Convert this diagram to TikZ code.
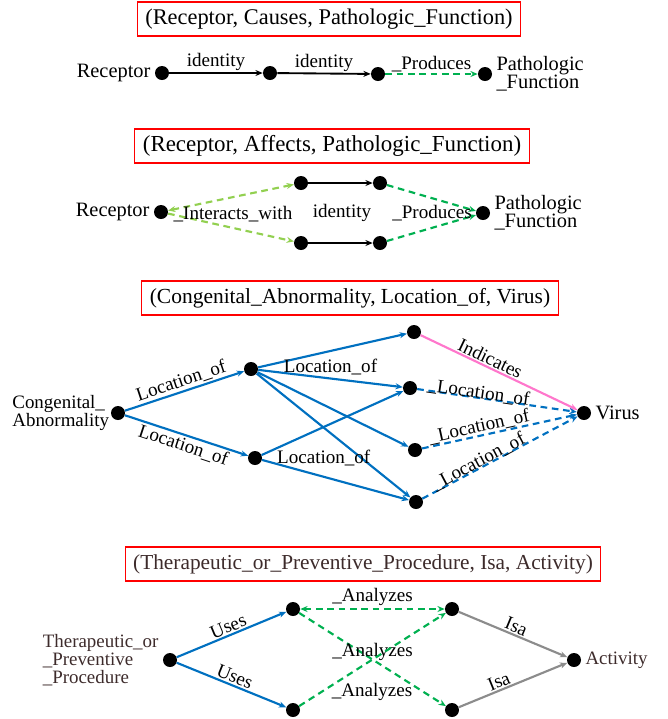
\documentclass[tikz,border=0pt]{standalone}
\usepackage{fontspec}
\setmainfont{Liberation Serif}
\usetikzlibrary{arrows.meta,calc}
\definecolor{boxred}{HTML}{FF0000}
\definecolor{lgreen}{HTML}{92D050}
\definecolor{dgreen}{HTML}{00B050}
\definecolor{eblue}{HTML}{0070C0}
\definecolor{epink}{HTML}{FF77CC}
\definecolor{egray}{HTML}{8C8C8C}
\definecolor{brownish}{HTML}{3D2B2B}
\begin{document}
\begin{tikzpicture}[x=0.75pt,y=-0.75pt,
  >={Stealth[length=5.5pt,width=4.5pt]},
  dot/.style={circle,fill=black,minimum size=10.5pt,inner sep=0pt},
  ttl/.style={draw=boxred,line width=0.8pt,font=\fontsize{16.8}{18}\selectfont,inner xsep=6pt,minimum height=25.5pt},
  nlab/.style={font=\fontsize{15.3}{13.5}\selectfont,align=left,inner sep=0pt},
  slab/.style={font=\fontsize{14.2}{13.5}\selectfont,align=left,inner sep=0pt},
  elab/.style={font=\fontsize{14.3}{14}\selectfont,inner sep=1pt},
  blk/.style={->,line width=1.4pt},
  dsh/.style={dash pattern=on 5pt off 3.5pt},
  lgr/.style={dsh,draw=lgreen,line width=1.6pt},
  dgr/.style={->,dsh,draw=dgreen,line width=1.6pt},
  blu/.style={->,draw=eblue,line width=1.6pt},
  bld/.style={->,dsh,draw=eblue,line width=1.6pt},
  pnk/.style={->,draw=epink,line width=1.6pt},
  gry/.style={->,draw=egray,line width=1.6pt}
]
\useasboundingbox (0,0) rectangle (668,719);

% ---------- Panel 1 ----------
\node[ttl] (t1) at (329,19) {(Receptor, Causes, Pathologic\_Function)};
\node[dot] (a1) at (162,73) {};
\node[dot] (a2) at (270,73) {};
\node[dot] (a3) at (378,74) {};
\node[dot] (a4) at (485,74) {};
\node[nlab,anchor=east] (a1l) at ([xshift=-3pt]a1.west) {Receptor};
\node[nlab,anchor=west] (a4l) at ([xshift=3pt]a4.east) {Pathologic\\\_Function};
\draw[blk] (a1) -- node[elab,above] (e11) {identity} (a2);
\draw[blk] (a2) -- node[elab,above] (e12) {identity} (a3);
\draw[dgr] (a3) -- node[elab,above] (e13) {\_Produces} (a4);

% ---------- Panel 2 ----------
\node[ttl,font=\fontsize{17.2}{18}\selectfont] (t2) at (332,146) {(Receptor, Affects, Pathologic\_Function)};
\node[dot] (b0) at (161,212) {};
\node[dot] (bu1) at (301,183) {};
\node[dot] (bu2) at (380,183) {};
\node[dot] (bl1) at (301,243) {};
\node[dot] (bl2) at (380,243) {};
\node[dot] (b5) at (483,213) {};
\node[nlab,anchor=east] (b0l) at ([xshift=-3pt]b0.west) {Receptor};
\node[nlab,anchor=west] (b5l) at ([xshift=3pt]b5.east) {Pathologic\\\_Function};
\draw[lgr,<->] (b0) -- (bu1);
\draw[lgr,->] (b0) -- (bl1);
\draw[blk] (bu1) -- (bu2);
\draw[blk] (bl1) -- (bl2);
\draw[dgr] (bu2) -- (b5);
\draw[dgr] (bl2) -- (b5);
\node[elab] (e21) at (233,214) {\_Interacts\_with};
\node[elab] (e22) at (342,213) {identity};
\node[elab] (e23) at (432,213) {\_Produces};

% ---------- Panel 3 ----------
\node[ttl,font=\fontsize{16.1}{18}\selectfont] (t3) at (350,298) {(Congenital\_Abnormality, Location\_of, Virus)};
\node[dot] (c0) at (118,413) {};
\node[dot] (cu) at (251,369) {};
\node[dot] (cl) at (255,458) {};
\node[dot] (r1) at (414,332) {};
\node[dot] (r2) at (410,388) {};
\node[dot] (r3) at (415,450) {};
\node[dot] (r4) at (416,502) {};
\node[dot] (cv) at (584,413) {};
\node[slab,anchor=east] (c0l) at ([xshift=-1pt]c0.west) {Congenital\_\\Abnormality};
\node[nlab,anchor=west] (cvl) at ([xshift=3pt]cv.east) {Virus};
\draw[blu] (c0) -- node[elab,sloped,above] (e31) {Location\_of} (cu);
\draw[blu] (c0) -- node[elab,sloped,below] (e32) {Location\_of} (cl);
\draw[blu] (cu) -- (r1);
\draw[blu] (cu) -- node[elab,above=1pt] (e33) {Location\_of} (r2);
\draw[blu] (cu) -- (r3);
\draw[blu] (cu) -- (r4);
\draw[blu] (cl) -- (r2);
\draw[blu] (cl) -- node[elab,pos=0.42,yshift=14pt] (e34) {Location\_of} (r4);
\draw[pnk] (r1) -- node[elab,sloped,above,pos=0.42] (e35) {Indicates} (cv);
\draw[bld] (r2) -- node[elab,sloped,above=-4pt,pos=0.38] (e36) {\_Location\_of} (cv);
\draw[bld] (r3) -- node[elab,sloped,above=-1pt,pos=0.38] (e37) {\_Location\_of} (cv);
\draw[bld] (r4) -- node[elab,sloped,above=-3pt,pos=0.38] (e38) {\_Location\_of} (cv);

% ---------- Panel 4 ----------
\node[ttl,text=brownish,font=\fontsize{16}{18}\selectfont] (t4) at (363,564) {(Therapeutic\_or\_Preventive\_Procedure, Isa, Activity)};
\node[dot] (d0) at (170,660) {};
\node[dot] (du1) at (293,609) {};
\node[dot] (dl1) at (293,710) {};
\node[dot] (du2) at (452,609) {};
\node[dot] (dl2) at (452,710) {};
\node[dot] (d5) at (574,660) {};
\node[slab,anchor=east,text=brownish] (d0l) at ([xshift=-3pt]d0.west) {Therapeutic\_or\\\_Preventive\\\_Procedure};
\node[slab,anchor=west,text=brownish] (d5l) at ([xshift=3pt]d5.east) {Activity};
\draw[blu] (d0) -- node[elab,sloped,above] (e41) {Uses} (du1);
\draw[blu] (d0) -- node[elab,sloped,above] (e42) {Uses} (dl1);
\draw[dgr,<->] (du1) -- node[elab,above=1pt] (e43) {\_Analyzes} (du2);
\draw[dgr] (du1) -- node[elab,midway,yshift=6pt] (e44) {\_Analyzes} (dl2);
\draw[dgr] (dl1) -- (du2);
\node[elab] (e45) at (372,692) {\_Analyzes};
\draw[gry] (du2) -- node[elab,sloped,above] (e46) {Isa} (d5);
\draw[gry] (dl2) -- node[elab,sloped,above,pos=0.4] (e47) {Isa} (d5);
\end{tikzpicture}
\end{document}
